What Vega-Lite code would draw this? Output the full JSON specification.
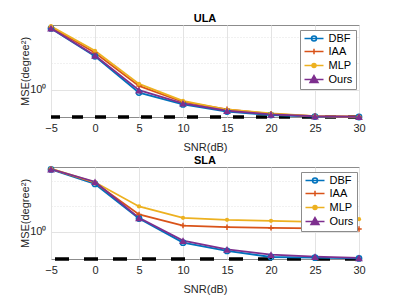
{
  "$schema": "https://vega.github.io/schema/vega-lite/v6.json",
  "autosize": "pad",
  "padding": {"left": 19, "top": 12, "right": 33, "bottom": 5},
  "background": "white",
  "config": {
    "font": "Liberation Sans",
    "view": {"stroke": "#8c8c8c", "strokeWidth": 1},
    "axis": {"labelFont": "Liberation Sans", "titleFont": "Liberation Sans", "labelFontSize": 11, "titleFontSize": 11, "labelColor": "#262626", "titleColor": "#262626", "titleFontWeight": "normal", "domain": false, "ticks": false, "gridColor": "#e3e3e3", "gridWidth": 1, "labelFlush": false},
    "title": {"font": "Liberation Sans", "fontSize": 11, "fontWeight": "bold", "color": "#000000", "offset": -3, "frame": "group", "anchor": "middle"},
    "legend": {"labelFont": "Liberation Sans", "labelFontSize": 11, "labelColor": "#000000"}
  },
  "datasets": {
    "ula": [
      {"snr": -5, "method": "DBF", "mse": 5.01}, {"snr": 0, "method": "DBF", "mse": 2.41}, {"snr": 5, "method": "DBF", "mse": 0.924}, {"snr": 10, "method": "DBF", "mse": 0.676}, {"snr": 15, "method": "DBF", "mse": 0.562}, {"snr": 20, "method": "DBF", "mse": 0.512}, {"snr": 25, "method": "DBF", "mse": 0.491}, {"snr": 30, "method": "DBF", "mse": 0.486},
      {"snr": -5, "method": "IAA", "mse": 5.18}, {"snr": 0, "method": "IAA", "mse": 2.64}, {"snr": 5, "method": "IAA", "mse": 1.103}, {"snr": 10, "method": "IAA", "mse": 0.722}, {"snr": 15, "method": "IAA", "mse": 0.595}, {"snr": 20, "method": "IAA", "mse": 0.529}, {"snr": 25, "method": "IAA", "mse": 0.498}, {"snr": 30, "method": "IAA", "mse": 0.489},
      {"snr": -5, "method": "MLP", "mse": 5.32}, {"snr": 0, "method": "MLP", "mse": 2.78}, {"snr": 5, "method": "MLP", "mse": 1.163}, {"snr": 10, "method": "MLP", "mse": 0.742}, {"snr": 15, "method": "MLP", "mse": 0.592}, {"snr": 20, "method": "MLP", "mse": 0.533}, {"snr": 25, "method": "MLP", "mse": 0.498}, {"snr": 30, "method": "MLP", "mse": 0.489},
      {"snr": -5, "method": "Ours", "mse": 5.05}, {"snr": 0, "method": "Ours", "mse": 2.46}, {"snr": 5, "method": "Ours", "mse": 0.984}, {"snr": 10, "method": "Ours", "mse": 0.698}, {"snr": 15, "method": "Ours", "mse": 0.573}, {"snr": 20, "method": "Ours", "mse": 0.522}, {"snr": 25, "method": "Ours", "mse": 0.496}, {"snr": 30, "method": "Ours", "mse": 0.489}
    ],
    "sla": [
      {"snr": -5, "method": "DBF", "mse": 5.49}, {"snr": 0, "method": "DBF", "mse": 3.69}, {"snr": 5, "method": "DBF", "mse": 1.44}, {"snr": 10, "method": "DBF", "mse": 0.746}, {"snr": 15, "method": "DBF", "mse": 0.595}, {"snr": 20, "method": "DBF", "mse": 0.505}, {"snr": 25, "method": "DBF", "mse": 0.495}, {"snr": 30, "method": "DBF", "mse": 0.485},
      {"snr": -5, "method": "IAA", "mse": 5.55}, {"snr": 0, "method": "IAA", "mse": 3.82}, {"snr": 5, "method": "IAA", "mse": 1.61}, {"snr": 10, "method": "IAA", "mse": 1.188}, {"snr": 15, "method": "IAA", "mse": 1.137}, {"snr": 20, "method": "IAA", "mse": 1.116}, {"snr": 25, "method": "IAA", "mse": 1.1}, {"snr": 30, "method": "IAA", "mse": 1.085},
      {"snr": -5, "method": "MLP", "mse": 5.6}, {"snr": 0, "method": "MLP", "mse": 3.87}, {"snr": 5, "method": "MLP", "mse": 2.0}, {"snr": 10, "method": "MLP", "mse": 1.466}, {"snr": 15, "method": "MLP", "mse": 1.388}, {"snr": 20, "method": "MLP", "mse": 1.351}, {"snr": 25, "method": "MLP", "mse": 1.314}, {"snr": 30, "method": "MLP", "mse": 1.415},
      {"snr": -5, "method": "Ours", "mse": 5.52}, {"snr": 0, "method": "Ours", "mse": 3.92}, {"snr": 5, "method": "Ours", "mse": 1.466}, {"snr": 10, "method": "Ours", "mse": 0.788}, {"snr": 15, "method": "Ours", "mse": 0.623}, {"snr": 20, "method": "Ours", "mse": 0.538}, {"snr": 25, "method": "Ours", "mse": 0.509}, {"snr": 30, "method": "Ours", "mse": 0.494}
    ],
    "crbU": [{"mse": 0.486}],
    "crbS": [{"mse": 0.478}]
  },
  "vconcat": [
    {
      "title": "ULA",
      "width": 308,
      "height": 92,
      "data": {"name": "ula"},
      "encoding": {
        "x": {"field": "snr", "type": "quantitative", "scale": {"domain": [-5, 30], "nice": false}, "axis": {"values": [-5, 0, 5, 10, 15, 20, 25, 30], "title": "SNR(dB)", "labelPadding": 5, "titlePadding": 8}},
        "y": {"field": "mse", "type": "quantitative", "scale": {"type": "log", "domain": [0.486, 5.49], "nice": false}, "axis": {"values": [1, 2, 4], "title": "MSE(degree²)", "labelExpr": "datum.value === 1 ? '10⁰' : ''", "labelPadding": 5, "titlePadding": -1, "gridDash": {"condition": {"test": "datum.value === 1", "value": []}, "value": [1, 2]}}}
      },
      "layer": [
        {
          "data": {"name": "crbU"},
          "mark": {"type": "rule", "color": "#000000", "strokeWidth": 3.5, "strokeDash": [11, 12]},
          "encoding": {"x": null, "y": {"field": "mse", "type": "quantitative"}}
        },
        {
          "mark": {"type": "line", "strokeWidth": 1.8},
          "encoding": {
            "color": {
              "field": "method", "type": "nominal",
              "scale": {"domain": ["DBF", "IAA", "MLP", "Ours"], "range": ["#0072BD", "#D95319", "#EDB120", "#7E2F8E"]},
              "legend": {
                "title": null, "orient": "none", "legendX": 249, "legendY": 5,
                "padding": 3, "rowPadding": 1, "symbolSize": 64, "symbolStrokeWidth": 1.5, "labelOffset": 14.5,
                "strokeColor": "#8c8c8c", "fillColor": "#ffffff",
                "encode": {"symbols": {"update": {
                  "shape": {"signal": "datum.value === 'DBF' ? 'M-1,0H3.75M0.75,0A0.625,0.625 0 1,0 2,0A0.625,0.625 0 1,0 0.75,0' : datum.value === 'IAA' ? 'M-1,0H3.75M0.675,0H2.075M1.375,-0.7V0.7' : datum.value === 'MLP' ? 'M-1,0H3.75M0.875,0A0.5,0.5 0 1,0 1.875,0A0.5,0.5 0 1,0 0.875,0' : 'M-1,0H3.75M1.375,-1L2.375,0.75L0.375,0.75Z'"},
                  "fill": {"signal": "datum.value === 'MLP' ? '#EDB120' : datum.value === 'Ours' ? '#7E2F8E' : 'transparent'"}
                }}}
              }
            }
          }
        },
        {"transform": [{"filter": "datum.method === 'DBF'"}], "mark": {"type": "point", "shape": "circle", "size": 28, "filled": false, "strokeWidth": 1.5, "color": "#0072BD", "opacity": 1}},
        {"transform": [{"filter": "datum.method === 'IAA'"}], "mark": {"type": "point", "shape": "M-1,0H1M0,-1V1", "size": 30, "filled": false, "strokeWidth": 1.5, "color": "#D95319", "opacity": 1}},
        {"transform": [{"filter": "datum.method === 'MLP'"}], "mark": {"type": "point", "shape": "circle", "size": 18, "filled": true, "color": "#EDB120", "opacity": 1}},
        {"transform": [{"filter": "datum.method === 'Ours'"}], "mark": {"type": "point", "shape": "triangle-up", "size": 60, "filled": true, "color": "#7E2F8E", "opacity": 1}}
      ]
    },
    {
      "title": "SLA",
      "width": 308,
      "height": 92,
      "data": {"name": "sla"},
      "encoding": {
        "x": {"field": "snr", "type": "quantitative", "scale": {"domain": [-5, 30], "nice": false}, "axis": {"values": [-5, 0, 5, 10, 15, 20, 25, 30], "title": "SNR(dB)", "labelPadding": 5, "titlePadding": 8}},
        "y": {"field": "mse", "type": "quantitative", "scale": {"type": "log", "domain": [0.478, 5.86], "nice": false}, "axis": {"values": [1, 2, 4], "title": "MSE(degree²)", "labelExpr": "datum.value === 1 ? '10⁰' : ''", "labelPadding": 5, "titlePadding": -1, "gridDash": {"condition": {"test": "datum.value === 1", "value": []}, "value": [1, 2]}}}
      },
      "layer": [
        {
          "data": {"name": "crbS"},
          "mark": {"type": "rule", "color": "#000000", "strokeWidth": 3.5, "strokeDash": [14, 15]},
          "encoding": {"x": null, "y": {"field": "mse", "type": "quantitative"}}
        },
        {
          "mark": {"type": "line", "strokeWidth": 1.8},
          "encoding": {
            "color": {
              "field": "method", "type": "nominal",
              "scale": {"domain": ["DBF", "IAA", "MLP", "Ours"], "range": ["#0072BD", "#D95319", "#EDB120", "#7E2F8E"]},
              "legend": {
                "title": null, "orient": "none", "legendX": 250, "legendY": 5,
                "padding": 3, "rowPadding": 1, "symbolSize": 64, "symbolStrokeWidth": 1.5, "labelOffset": 14.5,
                "strokeColor": "#8c8c8c", "fillColor": "#ffffff",
                "encode": {"symbols": {"update": {
                  "shape": {"signal": "datum.value === 'DBF' ? 'M-1,0H3.75M0.75,0A0.625,0.625 0 1,0 2,0A0.625,0.625 0 1,0 0.75,0' : datum.value === 'IAA' ? 'M-1,0H3.75M0.675,0H2.075M1.375,-0.7V0.7' : datum.value === 'MLP' ? 'M-1,0H3.75M0.875,0A0.5,0.5 0 1,0 1.875,0A0.5,0.5 0 1,0 0.875,0' : 'M-1,0H3.75M1.375,-1L2.375,0.75L0.375,0.75Z'"},
                  "fill": {"signal": "datum.value === 'MLP' ? '#EDB120' : datum.value === 'Ours' ? '#7E2F8E' : 'transparent'"}
                }}}
              }
            }
          }
        },
        {"transform": [{"filter": "datum.method === 'DBF'"}], "mark": {"type": "point", "shape": "circle", "size": 28, "filled": false, "strokeWidth": 1.5, "color": "#0072BD", "opacity": 1}},
        {"transform": [{"filter": "datum.method === 'IAA'"}], "mark": {"type": "point", "shape": "M-1,0H1M0,-1V1", "size": 30, "filled": false, "strokeWidth": 1.5, "color": "#D95319", "opacity": 1}},
        {"transform": [{"filter": "datum.method === 'MLP'"}], "mark": {"type": "point", "shape": "circle", "size": 18, "filled": true, "color": "#EDB120", "opacity": 1}},
        {"transform": [{"filter": "datum.method === 'Ours'"}], "mark": {"type": "point", "shape": "triangle-up", "size": 60, "filled": true, "color": "#7E2F8E", "opacity": 1}}
      ]
    }
  ],
  "spacing": 50,
  "bounds": "flush",
  "resolve": {"scale": {"y": "independent", "color": "independent"}, "legend": {"color": "independent"}}
}
